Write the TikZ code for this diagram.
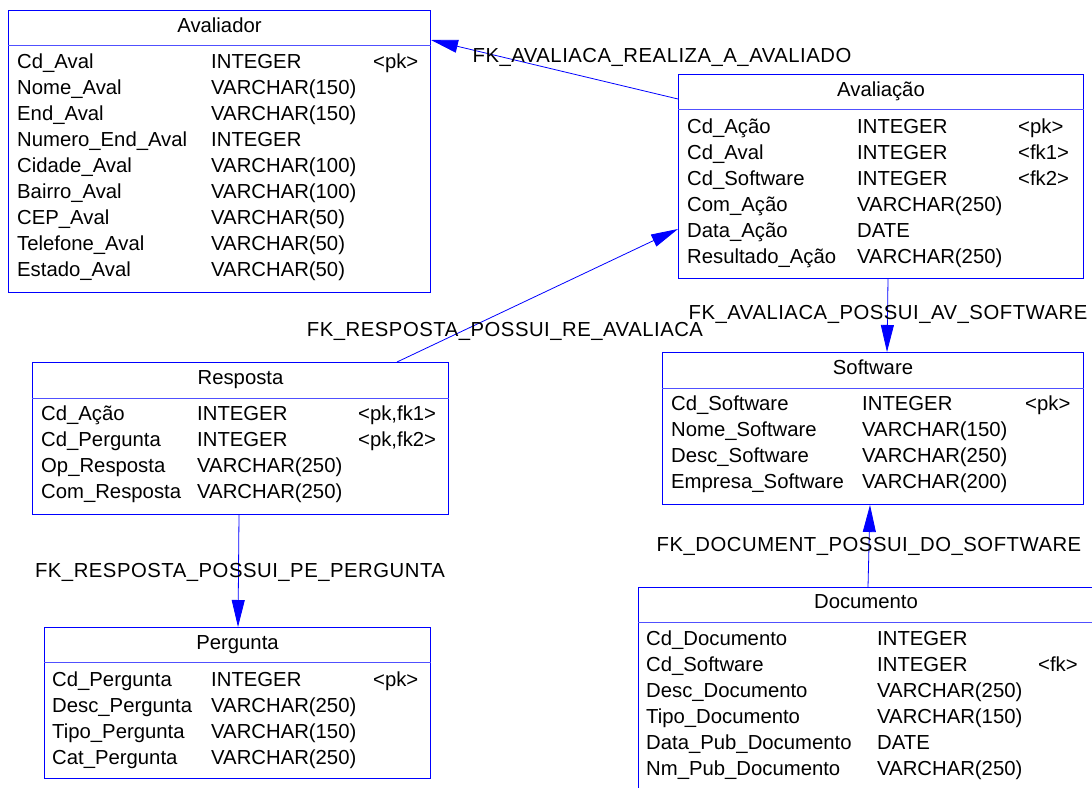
\documentclass[tikz,border=0pt]{standalone}
\usepackage{fontspec}
\setmainfont{Liberation Sans}
\usetikzlibrary{arrows.meta}
\definecolor{erblue}{RGB}{0,0,255}
\definecolor{sepblue}{RGB}{80,80,255}
\newcommand\erfs{\fontsize{20.3}{24}\selectfont}
\newcommand\erlfs{\fontsize{20.3}{24}\selectfont\addfontfeature{LetterSpace=2.5}}
\tikzset{
  tbl/.style={draw=erblue, line width=1pt, rectangle, anchor=north west, inner sep=0pt},
  sepline/.style={draw=sepblue, line width=1pt},
  cell/.style={anchor=base west, inner sep=0pt, font=\erfs},
  ttl/.style={anchor=base, inner sep=0pt, font=\erfs},
  fk/.style={draw=erblue, line width=0.8pt, -{Triangle[length=27pt,width=13pt]}},
  fklabel/.style={anchor=base, inner sep=0pt, font=\erlfs},
}
\begin{document}
\begin{tikzpicture}[x=1pt,y=-1pt]
\clip (0,0) rectangle (1092,787);

% ---------- Avaliador ----------
\node[tbl, minimum width=422pt, minimum height=282pt] (avaliador) at (8,10) {};
\draw[sepline] (avaliador.west |- 0,45) -- (avaliador.east |- 0,45);
\node[ttl] (avaliador-title) at (avaliador.north |- 0,32) {Avaliador};
\foreach[count=\i from 0] \a/\b in {Cd\_Aval/INTEGER, Nome\_Aval/VARCHAR(150), End\_Aval/VARCHAR(150), Numero\_End\_Aval/INTEGER, Cidade\_Aval/VARCHAR(100), Bairro\_Aval/VARCHAR(100), CEP\_Aval/VARCHAR(50), Telefone\_Aval/VARCHAR(50), Estado\_Aval/VARCHAR(50)} {
  \node[cell] (avaliador-n\i) at (17,68+26*\i) {\a};
  \node[cell] (avaliador-t\i) at (211,68+26*\i) {\b};
}
\node[cell] (avaliador-k0) at (373,68) {<pk>};

% ---------- Avaliacao ----------
\node[tbl, minimum width=405pt, minimum height=204pt] (avaliacao) at (678,74) {};
\draw[sepline] (avaliacao.west |- 0,109) -- (avaliacao.east |- 0,109);
\node[ttl] (avaliacao-title) at (avaliacao.north |- 0,96) {Avaliação};
\foreach[count=\i from 0] \a/\b in {Cd\_Ação/INTEGER, Cd\_Aval/INTEGER, Cd\_Software/INTEGER, Com\_Ação/VARCHAR(250), Data\_Ação/DATE, Resultado\_Ação/VARCHAR(250)} {
  \node[cell] (avaliacao-n\i) at (687,133+26*\i) {\a};
  \node[cell] (avaliacao-t\i) at (857,133+26*\i) {\b};
}
\node[cell] (avaliacao-k0) at (1018,133) {<pk>};
\node[cell] (avaliacao-k1) at (1018,159) {<fk1>};
\node[cell] (avaliacao-k2) at (1018,185) {<fk2>};

% ---------- Resposta ----------
\node[tbl, minimum width=416pt, minimum height=152pt] (resposta) at (32,362) {};
\draw[sepline] (resposta.west |- 0,398) -- (resposta.east |- 0,398);
\node[ttl] (resposta-title) at (resposta.north |- 0,384) {Resposta};
\foreach[count=\i from 0] \a/\b in {Cd\_Ação/INTEGER, Cd\_Pergunta/INTEGER, Op\_Resposta/VARCHAR(250), Com\_Resposta/VARCHAR(250)} {
  \node[cell] (resposta-n\i) at (41,420+26*\i) {\a};
  \node[cell] (resposta-t\i) at (197,420+26*\i) {\b};
}
\node[cell] (resposta-k0) at (358,420) {<pk,fk1>};
\node[cell] (resposta-k1) at (358,446) {<pk,fk2>};

% ---------- Software ----------
\node[tbl, minimum width=421pt, minimum height=152pt] (software) at (662,352) {};
\draw[sepline] (software.west |- 0,388) -- (software.east |- 0,388);
\node[ttl] (software-title) at (software.north |- 0,374) {Software};
\foreach[count=\i from 0] \a/\b in {Cd\_Software/INTEGER, Nome\_Software/VARCHAR(150), Desc\_Software/VARCHAR(250), Empresa\_Software/VARCHAR(200)} {
  \node[cell] (software-n\i) at (671,410+26*\i) {\a};
  \node[cell] (software-t\i) at (862,410+26*\i) {\b};
}
\node[cell] (software-k0) at (1025,410) {<pk>};

% ---------- Pergunta ----------
\node[tbl, minimum width=386pt, minimum height=151pt] (pergunta) at (44,627) {};
\draw[sepline] (pergunta.west |- 0,662) -- (pergunta.east |- 0,662);
\node[ttl] (pergunta-title) at (pergunta.north |- 0,649) {Pergunta};
\foreach[count=\i from 0] \a/\b in {Cd\_Pergunta/INTEGER, Desc\_Pergunta/VARCHAR(250), Tipo\_Pergunta/VARCHAR(150), Cat\_Pergunta/VARCHAR(250)} {
  \node[cell] (pergunta-n\i) at (52,686+26*\i) {\a};
  \node[cell] (pergunta-t\i) at (211,686+26*\i) {\b};
}
\node[cell] (pergunta-k0) at (373,686) {<pk>};

% ---------- Documento ----------
\node[tbl, minimum width=460pt, minimum height=220pt] (documento) at (638,587) {};
\draw[sepline] (documento.west |- 0,622) -- (documento.east |- 0,622);
\node[ttl] (documento-title) at (866,608) {Documento};
\foreach[count=\i from 0] \a/\b in {Cd\_Documento/INTEGER, Cd\_Software/INTEGER, Desc\_Documento/VARCHAR(250), Tipo\_Documento/VARCHAR(150), Data\_Pub\_Documento/DATE, Nm\_Pub\_Documento/VARCHAR(250)} {
  \node[cell] (documento-n\i) at (646,645+26*\i) {\a};
  \node[cell] (documento-t\i) at (877,645+26*\i) {\b};
}
\node[cell] (documento-k1) at (1038,671) {<fk>};

% ---------- Connectors ----------
\draw[fk] (avaliacao.west |- 0,99) -- (avaliador.east |- 0,40);
\draw[fk] (resposta.north -| 397,0) -- (avaliacao.west |- 0,229);
\draw[fk] (avaliacao.south -| 888,0) -- (software.north -| 887,0);
\draw[fk] (resposta.south -| 239,0) -- (pergunta.north -| 238,0);
\draw[fk] (documento.north -| 868,0) -- (software.south -| 870,0);

% ---------- Labels ----------
\node[fklabel] (l1) at (662,62) {FK\_AVALIACA\_REALIZA\_A\_AVALIADO};
\node[fklabel] (l2) at (505,336) {FK\_RESPOSTA\_POSSUI\_RE\_AVALIACA};
\node[fklabel] (l3) at (888,319) {FK\_AVALIACA\_POSSUI\_AV\_SOFTWARE};
\node[fklabel] (l4) at (240,577) {FK\_RESPOSTA\_POSSUI\_PE\_PERGUNTA};
\node[fklabel] (l5) at (869,551) {FK\_DOCUMENT\_POSSUI\_DO\_SOFTWARE};
\end{tikzpicture}
\end{document}
